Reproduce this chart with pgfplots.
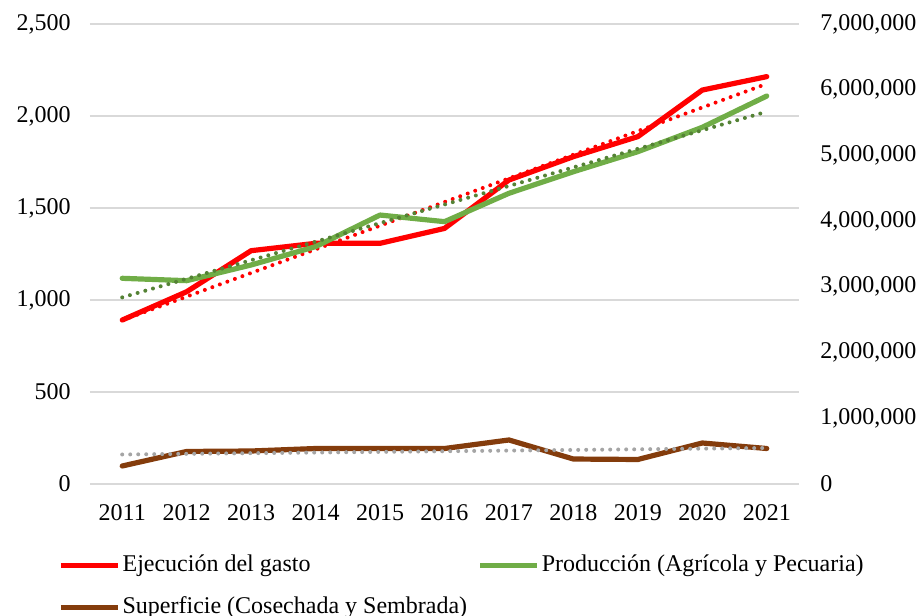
\documentclass[border=0pt]{standalone}
\usepackage{fontspec}
\setmainfont{Liberation Serif}
\usepackage{pgfplots}
\pgfplotsset{compat=1.18}
\definecolor{gasto}{HTML}{FF0000}
\definecolor{prod}{HTML}{70AD47}
\definecolor{prodtr}{HTML}{548235}
\definecolor{sup}{HTML}{843C0C}
\definecolor{suptr}{HTML}{A5A5A5}
\definecolor{gridc}{HTML}{D9D9D9}

\begin{document}
\fontsize{12}{14}\selectfont
\begin{tikzpicture}
\pgfplotsset{
  base/.style={
    width=354.5pt, height=230pt, scale only axis,
    xmin=2010.5, xmax=2021.5,
    axis line style={draw=none},
    tick style={draw=none},
    ticklabel style={font=\fontsize{12}{14}\selectfont},
    /pgf/number format/assume math mode=true,
    /pgf/number format/1000 sep={,},
  },
  serie/.style={line width=2.6pt, line join=round, line cap=round},
  trend/.style={line width=2pt, line cap=round, dash pattern=on 0pt off 4pt},
}
% eje izquierdo: ejecucion del gasto
\begin{axis}[base, name=ax,
  ymin=0, ymax=2500, ytick={0,500,1000,1500,2000,2500},
  ymajorgrids, grid style={gridc, line width=0.8pt},
  xtick={2011,2012,2013,2014,2015,2016,2017,2018,2019,2020,2021},
  xticklabels={2011,2012,2013,2014,2015,2016,2017,2018,2019,2020,2021},
  xticklabel style={yshift=-6pt},
  yticklabel style={xshift=-5.5pt},
]
\addplot[gasto, serie] coordinates {
 (2011,891) (2012,1045) (2013,1268) (2014,1308) (2015,1308) (2016,1389)
 (2017,1652) (2018,1779) (2019,1888) (2020,2141) (2021,2214)
};
\addplot[gasto, trend] coordinates {(2011,890) (2021,2175)};
\end{axis}
% eje derecho: produccion y superficie
\begin{axis}[base,
  ymin=0, ymax=7000000,
  ytick={0,1000000,2000000,3000000,4000000,5000000,6000000,7000000},
  axis y line*=right, axis x line=none,
  scaled y ticks=false,
  yticklabel style={/pgf/number format/fixed, xshift=6.5pt},
  legend columns=2, legend cell align=left,
  legend image code/.code={\draw[#1, line width=2.6pt, line cap=butt] (0pt,0pt) -- (28.5pt,0pt);},
  legend style={draw=none, fill=none, at={(0,0)}, anchor=north west,
    xshift=-16pt, yshift=-33.5pt, inner sep=0pt, row sep=7pt, column sep=0pt,
    nodes={inner sep=1pt, text height=9pt, text depth=3pt, font=\fontsize{12}{14}\selectfont}},
]
\addlegendimage{gasto}
\addlegendentry{\makebox[176.5pt][l]{Ejecución del gasto}}
\addplot[prod, serie] coordinates {
 (2011,3130000) (2012,3094000) (2013,3333000) (2014,3612000) (2015,4093000) (2016,3992000)
 (2017,4424000) (2018,4752000) (2019,5057000) (2020,5428000) (2021,5904000)
};
\addlegendentry{Producción (Agrícola y Pecuaria)}
\addplot[prodtr, trend, forget plot] coordinates {(2011,2840000) (2021,5666000)};
\addplot[sup, serie] coordinates {
 (2011,274000) (2012,495000) (2013,502000) (2014,540000) (2015,540000) (2016,540000)
 (2017,670000) (2018,380000) (2019,373000) (2020,624000) (2021,540000)
};
\addlegendentry{\makebox[176.5pt][l]{Superficie (Cosechada y Sembrada)}}
\addplot[suptr, trend, forget plot] coordinates {(2011,449000) (2021,548000)};
\end{axis}
\pgfresetboundingbox
\path ([shift={(-45pt,-66pt)}]ax.south west) rectangle ([shift={(62pt,12pt)}]ax.north east);
\end{tikzpicture}
\end{document}
